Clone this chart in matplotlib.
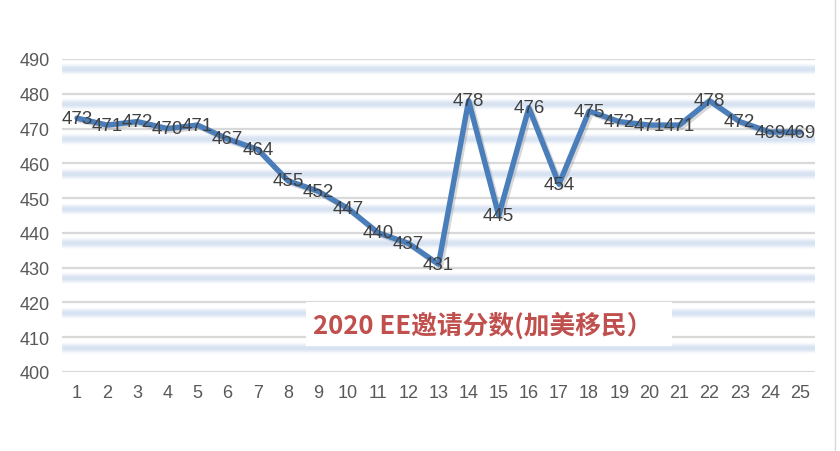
import matplotlib
matplotlib.use("Agg")
import matplotlib.pyplot as plt
import matplotlib.patheffects as pe
from matplotlib.lines import Line2D
from matplotlib.patches import Rectangle

rounds = list(range(1, 26))
scores = [473, 471, 472, 470, 471, 467, 464, 455, 452, 447, 440, 437, 431,
          478, 445, 476, 454, 475, 472, 471, 471, 478, 472, 469, 469]
yticks = list(range(400, 491, 10))
title = "2020 EE邀请分数(加美移民）"

fig = plt.figure(figsize=(8.4, 4.52), dpi=100)
ax = fig.add_axes([62/840, 1-373/452, (815-62)/840, (373-60)/452])
ax.set_xlim(0.5, 25.5)
ax.set_ylim(400, 490)

# grid lines and soft blue "glow" bands
for y in yticks:
    ax.axhline(y, color="#D9D9D9", lw=1.6, zorder=1)
    if y > 400:
        yb = y - 3
        for lw, a in [(8, 0.05), (7, 0.06), (6, 0.07), (5, 0.08), (4, 0.09), (3, 0.1), (2, 0.1)]:
            ax.axhline(yb, color="#A9C4EA", lw=lw, alpha=a, zorder=0.5,
                       solid_capstyle="butt")

ax.plot(rounds, scores, color="#4A7EBB", lw=3.9, zorder=3,
        solid_joinstyle="round", solid_capstyle="round",
        path_effects=[pe.SimpleLineShadow(offset=(1.5, -1.5), shadow_color="gray", alpha=0.3),
                      pe.Normal()])

for x, v in zip(rounds, scores):
    ax.text(x, v, str(v), ha="center", va="center", fontsize=13.5,
            color="#404040", zorder=4, family="Liberation Sans")

ax.set_xticks(rounds)
ax.set_xticklabels([str(r) for r in rounds])
ax.set_yticks(yticks)
ax.tick_params(length=0, labelsize=13, colors="#595959", pad=9)
for lab in ax.get_xticklabels() + ax.get_yticklabels():
    lab.set_family("Liberation Sans")
for s in ax.spines.values():
    s.set_visible(False)

# title box
fig.add_artist(Rectangle((306/840, 1-347/452), (672-306)/840, 44/452,
                         transform=fig.transFigure, fc="white", ec="none", zorder=5))
fig.text(313/840, 1-326/452, title, ha="left", va="center",
         fontsize=18.5, color="#C0504D", fontweight="bold",
         family=["Noto Sans CJK SC", "DejaVu Sans"], zorder=6)

fig.add_artist(Line2D([835/840, 835/840], [0, 1], transform=fig.transFigure,
                      color="#D9D9D9", lw=1))

fig.savefig("out.png", dpi=100)
